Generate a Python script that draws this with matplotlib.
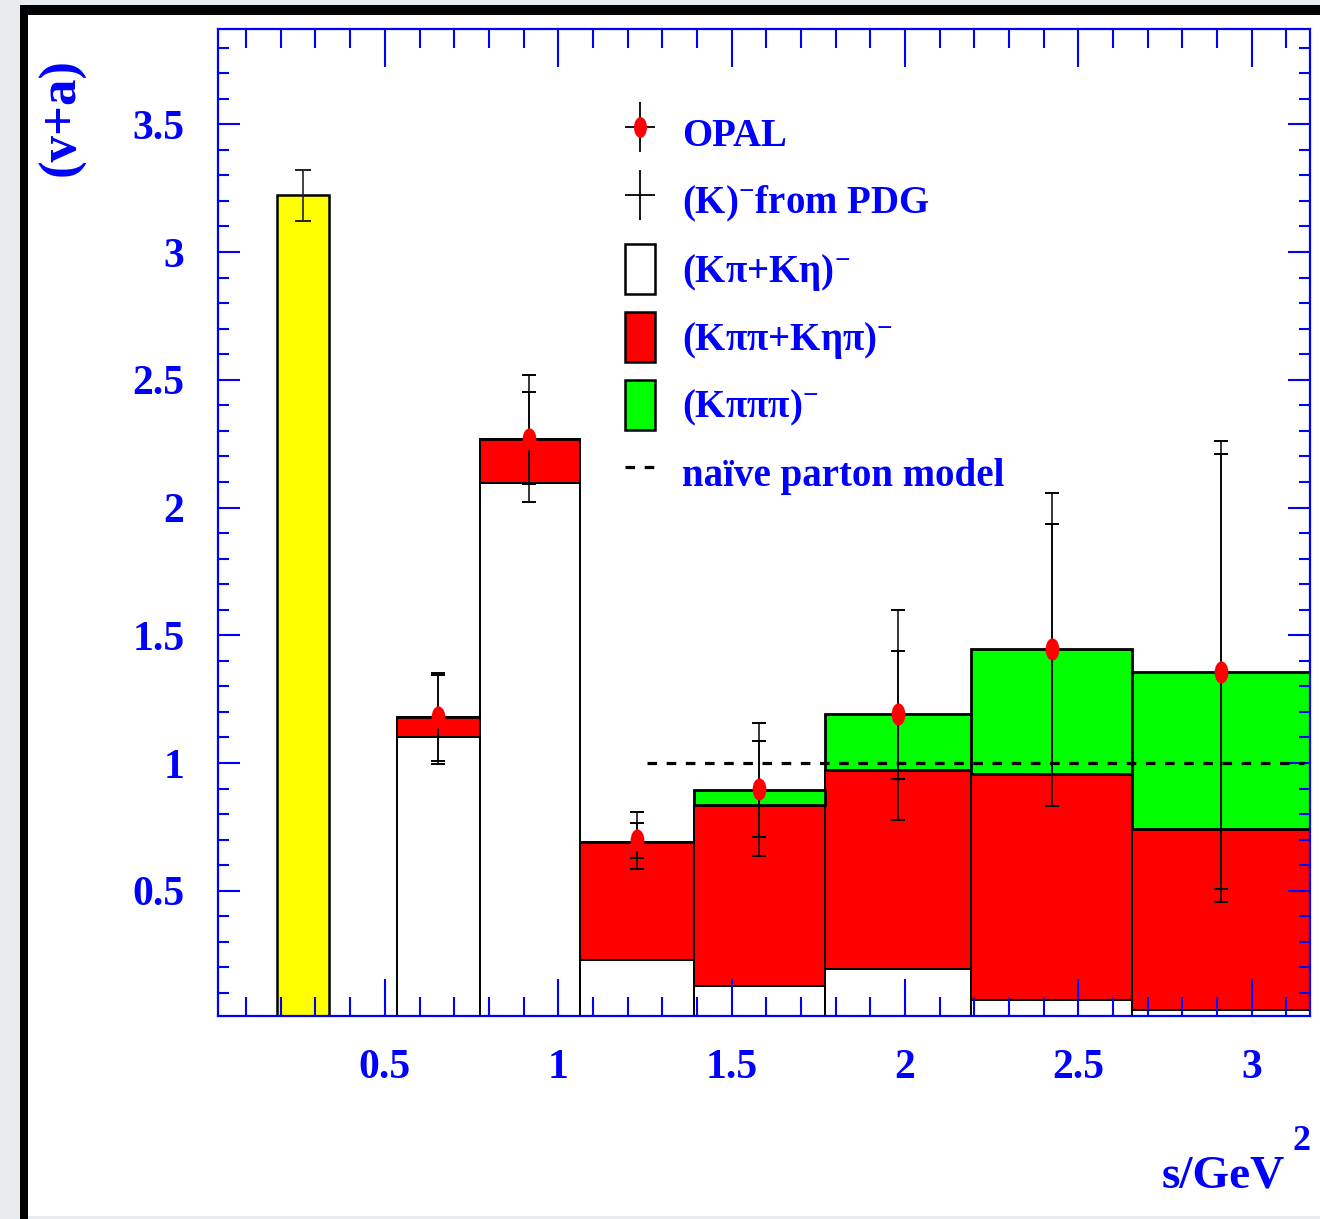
import matplotlib.pyplot as plt
import numpy as np
from matplotlib.patches import Rectangle
from matplotlib.lines import Line2D
from matplotlib.path import Path
from matplotlib.transforms import Affine2D
from matplotlib.ticker import MultipleLocator, FormatStrFormatter

plt.rcParams['font.family'] = ['Liberation Serif', 'DejaVu Serif']
plt.rcParams['font.weight'] = 'bold'
plt.rcParams['mathtext.fontset'] = 'custom'
plt.rcParams['mathtext.rm'] = 'Liberation Serif:bold'
plt.rcParams['mathtext.it'] = 'Liberation Serif:bold'
plt.rcParams['mathtext.bf'] = 'Liberation Serif:bold'

# bin edges in s / GeV^2
edges = [0.534, 0.774, 1.062, 1.393, 1.769, 2.190, 2.656, 3.168]
# stacked contributions per bin
k_pi_eta = [1.100, 2.097, 0.229, 0.127, 0.194, 0.072, 0.033]     # (K pi + K eta)-
k_2pi = [0.079, 0.173, 0.461, 0.707, 0.779, 0.885, 0.707]        # (K pi pi + K eta pi)-
k_3pi = [0.0, 0.0, 0.0, 0.060, 0.218, 0.488, 0.617]              # (K pi pi pi)-

# OPAL points
opal_s = [0.654, 0.916, 1.226, 1.579, 1.980, 2.423, 2.911]
opal_v = [1.18, 2.27, 0.70, 0.90, 1.19, 1.445, 1.356]
opal_tot_hi = [1.353, 2.519, 0.808, 1.157, 1.599, 2.057, 2.260]
opal_tot_lo = [0.996, 2.020, 0.585, 0.637, 0.777, 0.832, 0.455]
opal_stat_hi = [1.345, 2.451, 0.766, 1.087, 1.438, 1.937, 2.208]
opal_stat_lo = [1.009, 2.091, 0.628, 0.712, 0.939, 0.953, 0.506]

# K pole from PDG
kaon_edges = [0.19, 0.34]
kaon_v = 3.223
kaon_hi = 3.32
kaon_lo = 3.123

# naive parton model
parton_s = [1.256, 3.15]
parton_v = [1.0, 1.0]

blue = '#0000ff'

fig = plt.figure(figsize=(13.2, 12.19), dpi=100)
fig.patch.set_facecolor('#e8ebee')
# page frame
fig.add_artist(Rectangle((28 / 1320, 3 / 1219), 1, 1 - 18 / 1219, transform=fig.transFigure,
                         facecolor='white', edgecolor='none', zorder=-10))
fig.add_artist(Rectangle((20 / 1320, 1 - 15 / 1219), 1, 10 / 1219, transform=fig.transFigure,
                         facecolor='black', edgecolor='none', zorder=-9))
fig.add_artist(Rectangle((20 / 1320, 0), 8 / 1320, 1 - 5 / 1219, transform=fig.transFigure,
                         facecolor='black', edgecolor='none', zorder=-9))

ax = fig.add_axes([217.7 / 1320, 1 - 1015.7 / 1219, (1310 - 217.7) / 1320, (1015.7 - 29) / 1219])
ax.set_facecolor('white')

left = np.array(edges[:-1])
widths = np.diff(edges)
b1 = np.array(k_pi_eta)
b2 = b1 + np.array(k_2pi)

ax.bar(left, k_pi_eta, width=widths, align='edge', color='white', edgecolor='black', linewidth=1.4, zorder=1)
ax.bar(left, k_2pi, width=widths, bottom=b1, align='edge', color='#ff0000', edgecolor='black', linewidth=1.4, zorder=1.1)
ax.bar(left, k_3pi, width=widths, bottom=b2, align='edge', color='#00ff00', edgecolor='black', linewidth=2.0, zorder=1.2)

ax.bar(kaon_edges[0], kaon_v, width=kaon_edges[1] - kaon_edges[0], align='edge', color='#ffff00',
       edgecolor='black', linewidth=1.8, zorder=1)
kx = (kaon_edges[0] + kaon_edges[1]) / 2
ax.errorbar([kx], [kaon_v], yerr=[[kaon_v - kaon_lo], [kaon_hi - kaon_v]], fmt='none',
            ecolor='#222222', elinewidth=1.2, capsize=5.5, capthick=1.4, zorder=3)

ax.plot(parton_s, parton_v, color='black', linewidth=2.3, linestyle=(0, (3, 3)), zorder=2)

s = np.array(opal_s)
v = np.array(opal_v)
ax.errorbar(s, v, yerr=[v - np.array(opal_tot_lo), np.array(opal_tot_hi) - v], fmt='none',
            ecolor='black', elinewidth=1.1, capsize=5, capthick=1.4, zorder=3)
ax.errorbar(s, v, yerr=[v - np.array(opal_stat_lo), np.array(opal_stat_hi) - v], fmt='none',
            ecolor='black', elinewidth=1.1, capsize=5, capthick=1.4, zorder=3)
ellipse = Path.unit_circle().transformed(Affine2D().scale(0.62, 1.0))
ax.plot(s, v, linestyle='none', marker=ellipse, markersize=16, color='#ff0000',
        markeredgewidth=0, zorder=4)

ax.set_xlim(0.018, 3.168)
ax.set_ylim(0.011, 3.873)

ax.xaxis.set_major_locator(MultipleLocator(0.5))
ax.xaxis.set_minor_locator(MultipleLocator(0.1))
ax.yaxis.set_major_locator(MultipleLocator(0.5))
ax.yaxis.set_minor_locator(MultipleLocator(0.1))
ax.xaxis.set_major_formatter(FormatStrFormatter('%g'))
ax.yaxis.set_major_formatter(FormatStrFormatter('%g'))

ax.tick_params(which='both', direction='in', top=True, right=True, color=blue, width=1.5,
               labelcolor=blue, labelsize=30)
ax.tick_params(axis='x', which='major', length=27, pad=24)
ax.tick_params(axis='x', which='minor', length=13.5)
ax.tick_params(axis='y', which='major', length=16, pad=24)
ax.tick_params(axis='y', which='minor', length=8)
for sp in ax.spines.values():
    sp.set_color(blue)
    sp.set_linewidth(1.6)

fig.text(62 / 1320, 1 - 117 / 1219, '(v+a)', rotation=90, ha='center', va='center',
         fontsize=38, color=blue, fontweight='bold')
fig.text(1285 / 1320, 1 - 1188 / 1219, 's/GeV', ha='right', va='baseline',
         fontsize=34, color=blue, fontweight='bold')
fig.text(1292 / 1320, 1 - 1150 / 1219, '2', ha='left', va='baseline',
         fontsize=26, color=blue, fontweight='bold')

# legend
vbar = Line2D([], [], color='black', marker='|', markersize=36, markeredgewidth=1.3, linestyle='none')
hbar = Line2D([], [], color='black', marker='_', markersize=22, markeredgewidth=1.3, linestyle='none')
dot = Line2D([], [], color='#ff0000', marker=ellipse, markersize=15, markeredgewidth=0, linestyle='none')
handles = [
    (vbar, hbar, dot),
    (vbar, hbar),
    Rectangle((0, 0), 1, 1, facecolor='white', edgecolor='black', linewidth=1.8),
    Rectangle((0, 0), 1, 1, facecolor='#ff0000', edgecolor='black', linewidth=1.8),
    Rectangle((0, 0), 1, 1, facecolor='#00ff00', edgecolor='black', linewidth=1.8),
    Line2D([], [], color='black', linewidth=2.3, linestyle=(0, (3, 3))),
]
labels = ['OPAL', '(K)$^{-}$from PDG', '(Kπ+Kη)$^{-}$', '(Kππ+Kηπ)$^{-}$', '(Kπππ)$^{-}$',
          'naïve parton model']
leg = ax.legend(handles, labels, loc='upper left', bbox_to_anchor=(0.373, 0.92), frameon=False,
                fontsize=28, handlelength=0.77, handleheight=1.62, handletextpad=0.7,
                labelspacing=0.45, borderpad=0, borderaxespad=0)
for t in leg.get_texts():
    t.set_color(blue)

fig.savefig('out.png', dpi=100, facecolor=fig.get_facecolor())
